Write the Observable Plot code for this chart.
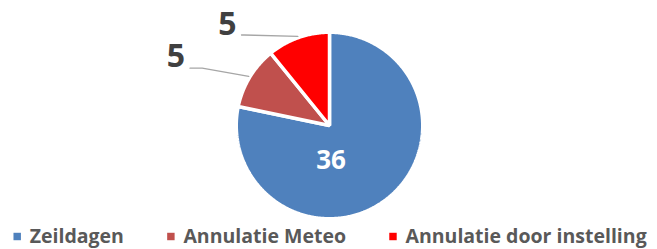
<!DOCTYPE html>
<html><head><meta charset="utf-8">
<script src="https://cdn.jsdelivr.net/npm/d3@7"></script>
<script src="https://cdn.jsdelivr.net/npm/@observablehq/plot@0.6"></script>
<style>
html,body{margin:0;padding:0;background:#fff;}
#chart svg{display:block;}
</style>
</head><body><div id="chart"></div>
<script>
// ---- data ----
const categories = ["Zeildagen", "Annulatie Meteo", "Annulatie door instelling"];
const values = [36, 5, 5];

// ---- styles / layout ----
const colors = ["#4F81BD", "#C0504D", "#FF0000"];
const W = 657, H = 249;
const cx = 329, cy = 125, R = 91.5, SEP = 3.5;
const FONT = "'Open Sans', sans-serif";
// label offsets relative to pie centre (manual placement in the original)
const labelOffsets = [[1.5, 35], [-153.5, -68.5], [-102, -101]];
const labelSizes = [26, 32, 32];
const labelColors = ["#FFFFFF", "#404040", "#404040"];
const elbowOffsets = [null, [-127.3, -57.3], [-85, -90.5]];
const legendSize = 19.5;
const legendY = 236;

const total = d3.sum(values);
let acc = 0;
const Rp = R + SEP / 2;
const slices = categories.map((c, i) => {
  const a0 = acc / total * 2 * Math.PI;
  acc += values[i];
  const a1 = acc / total * 2 * Math.PI;
  const n = Math.max(4, Math.ceil((a1 - a0) / 0.01));
  const pts = [{x: cx, y: cy}];
  for (let k = 0; k <= n; k++) {
    const a = a0 + (a1 - a0) * k / n;
    pts.push({x: cx + Rp * Math.sin(a), y: cy - Rp * Math.cos(a)});
  }
  const am = (a0 + a1) / 2;
  return {cat: c, value: values[i], color: colors[i], pts, am, i};
});

const labels = slices.map(s => ({
  text: String(s.value),
  x: cx + labelOffsets[s.i][0],
  y: cy + labelOffsets[s.i][1],
  fill: labelColors[s.i],
  size: labelSizes[s.i]
}));

const leaders = [];
slices.forEach(s => {
  if (!elbowOffsets[s.i]) return;
  const edge = {x: cx + (R + 3) * Math.sin(s.am), y: cy - (R + 3) * Math.cos(s.am), k: s.i};
  const elbow = {x: cx + elbowOffsets[s.i][0], y: cy + elbowOffsets[s.i][1], k: s.i};
  const end = {x: cx + labelOffsets[s.i][0] + 14, y: elbow.y, k: s.i};
  leaders.push(edge, elbow, end);
});

// legend positions computed from text widths
const ctx = document.createElement("canvas").getContext("2d");
ctx.font = `bold ${legendSize}px 'Open Sans'`;
const legend = [];
let lx = 16.7;
categories.forEach((c, i) => {
  legend.push({cat: c, color: colors[i], sx: lx, tx: lx + 12.5, y: legendY});
  lx += 12.5 + ctx.measureText(c).width + 47;
});

const marks = [];
slices.forEach(s => {
  marks.push(Plot.line(s.pts, {x: "x", y: "y", fill: s.color, stroke: "white", strokeWidth: SEP, curve: "linear-closed", strokeLinejoin: "miter"}));
});
marks.push(Plot.line(leaders, {x: "x", y: "y", z: "k", stroke: "#A6A6A6", strokeWidth: 1.3}));
labels.forEach(l => {
  marks.push(Plot.text([l], {x: "x", y: "y", text: "text", fill: l.fill, fontSize: l.size, fontWeight: "bold", fontFamily: FONT, textAnchor: "middle", lineAnchor: "middle"}));
});
marks.push(Plot.dot(legend, {x: "sx", y: "y", fill: "color", symbol: "square", r: 4.2, stroke: null}));
marks.push(Plot.text(legend, {x: "tx", y: "y", text: "cat", fill: "#595959", fontSize: legendSize, fontWeight: "bold", fontFamily: FONT, textAnchor: "start", lineAnchor: "middle"}));

const chart = Plot.plot({
  width: W, height: H,
  margin: 0,
  x: {domain: [0, W], range: [0, W], axis: null},
  y: {domain: [0, H], range: [0, H], axis: null},
  style: {background: "white", fontFamily: FONT},
  marks
});
document.getElementById("chart").appendChild(chart);
</script>
</body></html>
